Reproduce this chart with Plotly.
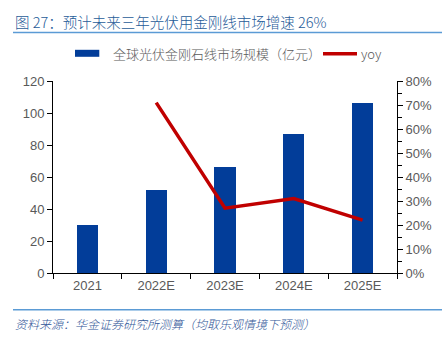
import plotly.graph_objects as go

categories = ["2021", "2022E", "2023E", "2024E", "2025E"]
market_size = [30, 52, 66, 87, 106]          # 亿元
yoy = [None, 71, 27, 31, 22]                  # %
left_ticks = [0, 20, 40, 60, 80, 100, 120]
right_ticks = [0, 10, 20, 30, 40, 50, 60, 70, 80]
right_labels = [f"{v}%" for v in right_ticks]

title_text = "图 27：预计未来三年光伏用金刚线市场增速 26%"
source_text = "资料来源：华金证券研究所测算（均取乐观情境下预测）"
bar_name = "全球光伏金刚石线市场规模（亿元）"
line_name = "yoy"

BLUE = "#023d99"
RED = "#c00000"
GREY = "#595959"
FONT = "Liberation Sans, Arial, Noto Sans CJK SC, sans-serif"
CJK = "Noto Sans CJK SC, sans-serif"

W, H = 444, 340
L, R, T, B = 53, 397, 80.7, 272.7

def px(x):
    return (x - L) / (R - L)

def py(y):
    return (B - y) / (B - T)

fig = go.Figure()
fig.add_trace(go.Bar(x=categories, y=market_size, marker_color=BLUE,
                     marker_line_width=0, width=0.31, name=bar_name,
                     showlegend=False))
fig.add_trace(go.Scatter(x=categories, y=yoy, yaxis="y2", mode="lines",
                         line=dict(color=RED, width=3.5), name=line_name,
                         showlegend=False))

shapes = [
    dict(type="line", xref="paper", yref="paper", x0=px(13), x1=px(442),
         y0=py(32.3), y1=py(32.3), line=dict(color="#5b9bd5", width=1.5)),
    dict(type="line", xref="paper", yref="paper", x0=px(13), x1=px(442),
         y0=py(309.5), y1=py(309.5), line=dict(color="#5b9bd5", width=1.5)),
    dict(type="rect", xref="paper", yref="paper", x0=px(75), x1=px(99.3),
         y0=py(49.5), y1=py(56.5), fillcolor=BLUE, line=dict(width=0)),
    dict(type="line", xref="paper", yref="paper", x0=px(323), x1=px(357),
         y0=py(53.5), y1=py(53.5), line=dict(color=RED, width=3.5)),
]

annotations = [
    dict(text=title_text, xref="paper", yref="paper", x=px(13), y=py(21),
         xanchor="left", yanchor="middle", showarrow=False,
         font=dict(family=CJK, size=14.5, color="#1f5c99", weight=300)),
    dict(text=f"<i>{source_text}</i>", xref="paper", yref="paper", x=px(13), y=py(323),
         xanchor="left", yanchor="middle", showarrow=False,
         font=dict(family=CJK, size=12, color="#2f5597", weight=300)),
    dict(text=bar_name, xref="paper", yref="paper", x=px(111), y=py(53.5),
         xanchor="left", yanchor="middle", showarrow=False,
         font=dict(family=CJK, size=13, color=GREY, weight=300)),
    dict(text=line_name, xref="paper", yref="paper", x=px(358.5), y=py(53.5),
         xanchor="left", yanchor="middle", showarrow=False,
         font=dict(family=CJK, size=13, color=GREY, weight=300)),
]

fig.update_layout(
    width=W, height=H,
    margin=dict(l=L, r=W - R, t=T, b=H - B, pad=0),
    paper_bgcolor="white", plot_bgcolor="white",
    bargap=0, showlegend=False,
    font=dict(family=FONT, size=13, color=GREY),
    xaxis=dict(range=[-0.5, 4.5], showline=True, linecolor="black", linewidth=1,
               ticks="outside", tickson="boundaries", ticklen=5, tickcolor="black",
               showgrid=False, zeroline=False, tickfont=dict(size=13, color=GREY)),
    yaxis=dict(range=[0, 120], tickvals=left_ticks, showline=True, linecolor="black",
               linewidth=1, ticks="outside", ticklen=5, tickcolor="black",
               showgrid=False, zeroline=False, tickfont=dict(size=13, color=GREY)),
    yaxis2=dict(range=[0, 80], overlaying="y", side="right", tickvals=right_ticks,
                ticktext=right_labels, showline=True, linecolor="black", linewidth=1,
                ticks="outside", ticklen=5, tickcolor="black", showgrid=False,
                zeroline=False, tickfont=dict(size=13, color=GREY),
                minor=dict(ticks="outside", ticklen=4, tickcolor="black", dtick=5,
                           tick0=0, showgrid=False)),
    shapes=shapes, annotations=annotations,
)

fig.write_html("out.html")
